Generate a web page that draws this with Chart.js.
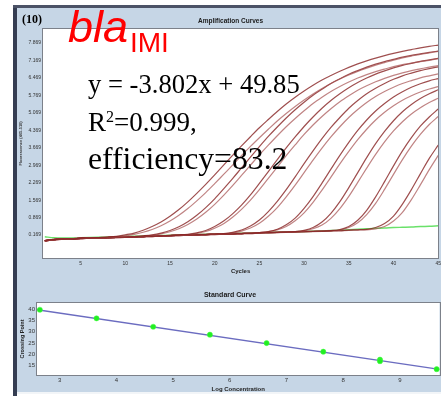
<!DOCTYPE html>
<html><head><meta charset="utf-8">
<script src="https://cdn.jsdelivr.net/npm/chart.js@4.4.1/dist/chart.umd.min.js"></script>
<style>
html,body{margin:0;padding:0;background:#fff;}
#wrap{position:relative;width:441px;height:396px;overflow:hidden;background:#fff;}
#panel{position:absolute;left:17px;top:8px;width:424px;height:384px;background:#c6d6e6;}
#lbar{position:absolute;left:13px;top:5px;width:4px;height:391px;background:#353d52;}
#tbar{position:absolute;left:13px;top:5px;width:428px;height:3px;background:#4b5266;}
#bline{position:absolute;left:17px;top:392px;width:424px;height:2px;background:#f2f5f8;}
canvas{position:absolute;}
#c1{left:17px;top:8px;}
#c2{left:17px;top:286px;}
.t{position:absolute;white-space:nowrap;line-height:1;z-index:5;}
.ser{font-family:"Liberation Serif","Times New Roman",serif;color:#000;}
.red{font-family:"Liberation Sans",Arial,sans-serif;color:#ff0000;}
</style></head><body>
<div id="wrap">
  <div id="panel"></div>
  <div id="lbar"></div>
  <div id="tbar"></div>
  <div id="bline"></div>
  <canvas id="c1" width="427" height="278"></canvas>
  <canvas id="c2" width="427" height="107"></canvas>
  <div class="t ser" style="left:22px;top:13px;font-size:12px;font-weight:bold;">(10)</div>
  <div class="t red" style="left:68px;top:4px;font-size:45px;font-style:italic;">bla</div>
  <div class="t red" style="left:130px;top:29px;font-size:28px;">IMI</div>
  <div class="t ser" style="left:88px;top:70.7px;font-size:26.6px;">y = -3.802x + 49.85</div>
  <div class="t ser" style="left:88px;top:109px;font-size:27px;">R<span style="font-size:16px;vertical-align:9px;">2</span>=0.999,</div>
  <div class="t ser" style="left:88px;top:142.5px;font-size:31.7px;">efficiency=83.2</div>
</div>
<script>
// ---------- Amplification curves data ----------
const cycles = [1,2,3,4,5,6,7,8,9,10,11,12,13,14,15,16,17,18,19,20,21,22,23,24,25,26,27,28,29,30,31,32,33,34,35,36,37,38,39,40,41,42,43,44,45];
const cycleTicks = [5,10,15,20,25,30,35,40,45];
const fluorTicks = [0.169,0.869,1.569,2.269,2.969,3.669,4.369,5.069,5.769,6.469,7.169,7.869];

const s1a = [-0.06,-0.01,0.01,0.02,0.04,0.05,0.07,0.09,0.12,0.18, 0.25,0.36,0.51,0.69,0.92,1.19,1.50,1.84,2.20,2.58, 2.97,3.36,3.74,4.11,4.47,4.80,5.12,5.42,5.69,5.94, 6.17,6.38,6.56,6.73,6.89,7.03,7.15,7.26,7.36,7.45, 7.53,7.60,7.67,7.73,7.78];
const s1b = [-0.07,-0.02,0.00,0.02,0.03,0.05,0.06,0.08,0.10,0.14, 0.20,0.28,0.39,0.54,0.73,0.96,1.23,1.54,1.87,2.23, 2.60,2.97,3.35,3.72,4.07,4.41,4.74,5.04,5.32,5.58, 5.82,6.04,6.24,6.42,6.58,6.73,6.86,6.98,7.08,7.18, 7.27,7.34,7.41,7.47,7.53];
const s2a = [-0.05,-0.01,0.01,0.02,0.04,0.05,0.06,0.07,0.08,0.09, 0.11,0.14,0.18,0.25,0.35,0.50,0.70,0.96,1.27,1.62, 2.02,2.43,2.86,3.29,3.71,4.12,4.50,4.86,5.19,5.49, 5.77,6.01,6.24,6.43,6.61,6.76,6.90,7.02,7.12,7.21, 7.30,7.37,7.43,7.49,7.54];
const s2b = [-0.06,-0.02,0.01,0.02,0.03,0.05,0.06,0.07,0.08,0.09, 0.11,0.13,0.16,0.22,0.30,0.42,0.59,0.81,1.08,1.40, 1.76,2.15,2.56,2.97,3.38,3.77,4.15,4.51,4.84,5.15, 5.44,5.69,5.92,6.12,6.30,6.46,6.60,6.72,6.82,6.92, 7.00,7.06,7.12,7.17,7.24];
const s3a = [-0.06,-0.01,0.01,0.02,0.04,0.05,0.06,0.07,0.08,0.09, 0.10,0.11,0.12,0.13,0.15,0.17,0.20,0.26,0.35,0.51, 0.73,1.02,1.37,1.78,2.24,2.71,3.19,3.66,4.10,4.52, 4.90,5.25,5.56,5.83,6.07,6.28,6.46,6.62,6.75,6.87, 6.97,7.05,7.13,7.19,7.25];
const s3b = [-0.05,0.00,0.02,0.03,0.04,0.05,0.06,0.07,0.08,0.09, 0.10,0.11,0.12,0.13,0.15,0.16,0.19,0.24,0.31,0.44, 0.62,0.88,1.20,1.57,1.99,2.44,2.89,3.35,3.78,4.20, 4.58,4.92,5.23,5.51,5.75,5.97,6.15,6.31,6.45,6.57, 6.67,6.76,6.83,6.90,6.96];
const s4a = [-0.06,-0.01,0.01,0.02,0.04,0.05,0.06,0.07,0.08,0.09, 0.10,0.11,0.12,0.13,0.15,0.16,0.17,0.18,0.19,0.21, 0.23,0.28,0.37,0.53,0.77,1.11,1.52,1.99,2.50,3.03, 3.54,4.03,4.48,4.88,5.25,5.56,5.83,6.05,6.24,6.41, 6.55,6.66,6.76,6.84,6.91];
const s4b = [-0.07,-0.02,0.00,0.01,0.03,0.04,0.05,0.06,0.07,0.08, 0.09,0.10,0.11,0.12,0.14,0.15,0.16,0.17,0.18,0.20, 0.22,0.26,0.33,0.45,0.64,0.92,1.27,1.70,2.17,2.67, 3.17,3.65,4.10,4.51,4.88,5.20,5.48,5.72,5.92,6.09, 6.24,6.36,6.47,6.55,6.63];
const s5a = [-0.06,-0.01,0.01,0.02,0.04,0.05,0.06,0.07,0.08,0.09, 0.10,0.11,0.12,0.13,0.15,0.16,0.17,0.18,0.19,0.20, 0.21,0.22,0.23,0.24,0.27,0.31,0.40,0.58,0.85,1.24, 1.71,2.25,2.81,3.36,3.88,4.36,4.78,5.14,5.44,5.70, 5.91,6.09,6.23,6.35,6.44];
const s5b = [-0.05,0.00,0.02,0.03,0.05,0.06,0.07,0.08,0.09,0.10, 0.11,0.12,0.13,0.14,0.16,0.17,0.18,0.19,0.20,0.21, 0.22,0.23,0.24,0.25,0.27,0.31,0.38,0.51,0.74,1.06, 1.48,1.97,2.49,3.02,3.52,3.99,4.41,4.78,5.09,5.35, 5.57,5.75,5.90,6.02,6.12];
const s6a = [-0.06,-0.01,0.01,0.02,0.04,0.05,0.06,0.07,0.08,0.09, 0.10,0.11,0.12,0.13,0.15,0.16,0.17,0.18,0.19,0.20, 0.21,0.22,0.23,0.24,0.26,0.27,0.28,0.29,0.31,0.36, 0.47,0.69,1.04,1.51,2.07,2.67,3.27,3.83,4.32,4.75, 5.11,5.40,5.64,5.83,5.99];
const s6b = [-0.07,-0.02,0.00,0.01,0.03,0.04,0.05,0.06,0.07,0.08, 0.09,0.10,0.11,0.12,0.14,0.15,0.16,0.17,0.18,0.19, 0.20,0.21,0.22,0.23,0.25,0.26,0.27,0.28,0.30,0.34, 0.42,0.57,0.84,1.23,1.72,2.28,2.85,3.40,3.90,4.34, 4.71,5.02,5.27,5.48,5.65];
const s7a = [-0.06,-0.01,0.01,0.02,0.04,0.05,0.06,0.07,0.08,0.09, 0.10,0.11,0.12,0.13,0.15,0.16,0.17,0.18,0.19,0.20, 0.21,0.22,0.23,0.24,0.26,0.27,0.28,0.29,0.30,0.31, 0.32,0.33,0.35,0.39,0.51,0.76,1.16,1.70,2.31,2.94, 3.54,4.07,4.53,4.90,5.22];
const s7b = [-0.05,0.00,0.02,0.03,0.05,0.06,0.07,0.08,0.09,0.10, 0.11,0.12,0.13,0.14,0.16,0.17,0.18,0.19,0.20,0.21, 0.22,0.23,0.24,0.25,0.27,0.28,0.29,0.30,0.31,0.32, 0.32,0.33,0.34,0.37,0.47,0.66,0.99,1.44,2.00,2.60, 3.19,3.73,4.20,4.60,4.92];
const s8a = [-0.06,-0.01,0.01,0.02,0.04,0.05,0.06,0.07,0.08,0.09, 0.10,0.11,0.12,0.13,0.15,0.16,0.17,0.18,0.19,0.20, 0.21,0.22,0.23,0.24,0.26,0.27,0.28,0.29,0.30,0.31, 0.32,0.33,0.34,0.35,0.37,0.38,0.40,0.47,0.63,0.93, 1.41,1.99,2.62,3.24,3.77];
const s8b = [-0.07,-0.02,0.00,0.01,0.03,0.04,0.05,0.06,0.07,0.08, 0.09,0.10,0.11,0.12,0.14,0.15,0.16,0.17,0.18,0.19, 0.20,0.21,0.22,0.23,0.25,0.26,0.27,0.28,0.29,0.30, 0.31,0.32,0.33,0.34,0.36,0.37,0.38,0.42,0.51,0.73, 1.08,1.59,2.18,2.79,3.36];
const ntc = [0.10,0.06,0.05,0.05,0.06,0.07,0.08,0.09,0.10,0.11, 0.12,0.13,0.14,0.15,0.16,0.17,0.18,0.19,0.20,0.21, 0.22,0.23,0.24,0.25,0.26,0.27,0.28,0.29,0.30,0.31, 0.32,0.33,0.35,0.36,0.38,0.40,0.42,0.44,0.45,0.47, 0.48,0.49,0.51,0.52,0.54];

const sampleSeries = [s1a,s1b,s2a,s2b,s3a,s3b,s4a,s4b,s5a,s5b,s6a,s6b,s7a,s7b,s8a,s8b];

// ---------- Standard curve data ----------
const logConc = [2.65,3.65,4.65,5.65,6.65,7.65,8.65,8.65,9.65];
const crossingPt = [40.0,36.1,32.3,28.7,24.9,21.0,17.4,16.7,13.1];
const fitX = [2.6,9.7];
const fitY = [40.0,13.0];
const concTicks = [3,4,5,6,7,8,9];
const cpTicks = [15,20,25,30,35,40];

Chart.defaults.font.family = '"Liberation Sans", Arial, sans-serif';

const plotFrame = {
  id:'plotFrame',
  beforeDatasetsDraw(chart){
    const {ctx,chartArea:a} = chart;
    ctx.save(); ctx.fillStyle='#ffffff';
    ctx.fillRect(a.left,a.top,a.right-a.left,a.bottom-a.top); ctx.restore();
  },
  afterDraw(chart){
    const {ctx,chartArea:a} = chart;
    ctx.save(); ctx.strokeStyle='#7c818a'; ctx.lineWidth=1;
    ctx.strokeRect(Math.round(a.left)-0.5,Math.round(a.top)-0.5,Math.round(a.right-a.left)+1,Math.round(a.bottom-a.top)+1);
    ctx.restore();
  }
};

const toPts = arr => cycles.map((c,i)=>({x:c,y:arr[i]}));
const ampSets = sampleSeries.map((s,i)=>({
  data: toPts(s),
  borderColor: i%2 ? 'rgba(165,80,80,0.7)' : 'rgba(135,35,35,0.8)',
  borderWidth: 1.2,
  pointRadius: 0,
  cubicInterpolationMode:'monotone',
  fill:false
}));
ampSets.push({data: toPts(ntc), borderColor:'rgba(80,220,80,0.85)', borderWidth:1.4, pointRadius:0, cubicInterpolationMode:'monotone', fill:false});

new Chart(document.getElementById('c1'), {
  type:'line',
  data:{datasets: ampSets},
  options:{
    responsive:false, animation:false, devicePixelRatio:1,
    events:[],
    layout:{padding:0},
    plugins:{
      legend:{display:false}, tooltip:{enabled:false},
      title:{display:true, text:'Amplification Curves', color:'#1a1a1a',
        font:{size:6.5, weight:'bold'}, padding:{top:9, bottom:4.1}}
    },
    scales:{
      x:{type:'linear', min:0.8, max:45,
        afterBuildTicks:s=>{ s.ticks = cycleTicks.map(v=>({value:v})); },
        afterFit:s=>{ s.height = 28; },
        grid:{display:false, drawTicks:false}, border:{display:false},
        ticks:{font:{size:5}, color:'#333', padding:3, maxRotation:0, autoSkip:false},
        title:{display:true, text:'Cycles', color:'#222', font:{size:6, weight:'bold'}, padding:{top:0, bottom:11.4}}
      },
      y:{type:'linear', min:-0.75, max:8.43,
        afterBuildTicks:s=>{ s.ticks = fluorTicks.map(v=>({value:v})); },
        afterFit:s=>{ s.width = 26; },
        grid:{display:false, drawTicks:false}, border:{display:false},
        ticks:{font:{size:5}, color:'#333', padding:2, autoSkip:false, callback:v=>v.toFixed(3)},
        title:{display:true, text:'Fluorescence (465-510)', color:'#333', font:{size:4, weight:'bold'}, padding:{top:1.6, bottom:0}}
      }
    }
  },
  plugins:[plotFrame]
});

new Chart(document.getElementById('c2'), {
  type:'scatter',
  data:{datasets:[
    {data: logConc.map((x,i)=>({x:x,y:crossingPt[i]})), pointRadius:2.6, pointBackgroundColor:'#22ee22', pointBorderColor:'#44ff44', pointBorderWidth:0.5, showLine:false, order:0, clip:false},
    {type:'line', data: fitX.map((x,i)=>({x:x,y:fitY[i]})), borderColor:'#6b6cc0', borderWidth:1.5, pointRadius:0, showLine:true, order:1}
  ]},
  options:{
    responsive:false, animation:false, devicePixelRatio:1,
    events:[],
    layout:{padding:{right:1}},
    plugins:{
      legend:{display:false}, tooltip:{enabled:false},
      title:{display:true, text:'Standard Curve', color:'#1a1a1a',
        font:{size:7, weight:'bold'}, padding:{top:5.3, bottom:3.3}}
    },
    scales:{
      x:{type:'linear', min:2.6, max:9.7,
        afterBuildTicks:s=>{ s.ticks = concTicks.map(v=>({value:v})); },
        afterFit:s=>{ s.height = 18; },
        grid:{display:false, drawTicks:false}, border:{display:false},
        ticks:{font:{size:6}, color:'#333', padding:2, maxRotation:0, autoSkip:false},
        title:{display:true, text:'Log Concentration', color:'#222', font:{size:6, weight:'bold'}, padding:{top:0, bottom:0.4}}
      },
      y:{type:'linear', min:10.45, max:43.05,
        afterBuildTicks:s=>{ s.ticks = cpTicks.map(v=>({value:v})); },
        afterFit:s=>{ s.width = 20; },
        grid:{display:false, drawTicks:false}, border:{display:false},
        ticks:{font:{size:6}, color:'#333', padding:2, autoSkip:false},
        title:{display:true, text:'Crossing Point', color:'#222', font:{size:5.5, weight:'bold'}, padding:{top:2.4, bottom:0}}
      }
    }
  },
  plugins:[plotFrame]
});
</script>
</body></html>
